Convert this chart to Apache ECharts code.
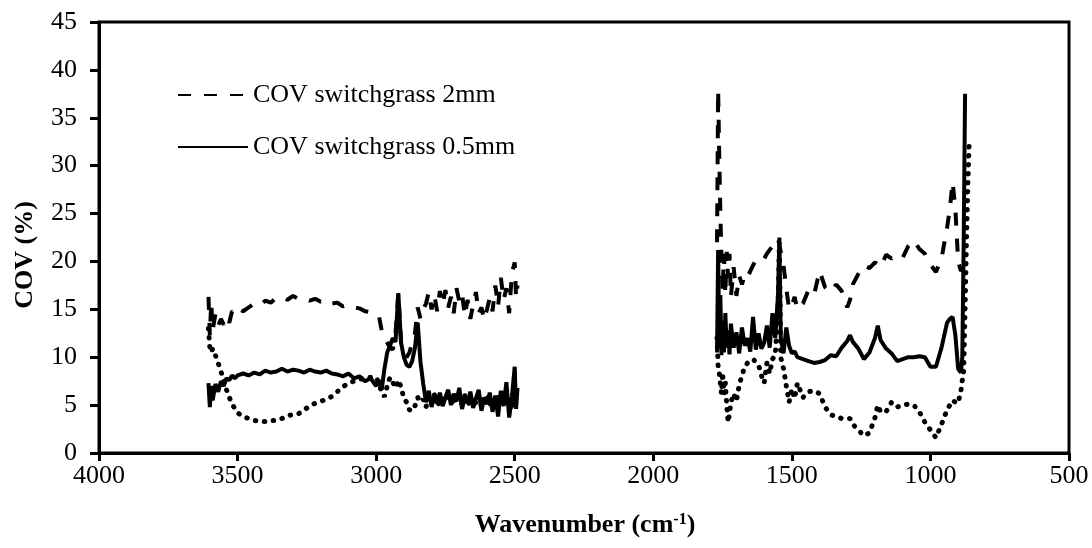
<!DOCTYPE html>
<html>
<head>
<meta charset="utf-8">
<script src="https://cdn.jsdelivr.net/npm/echarts@6/dist/echarts.min.js"></script>
<style>html,body{margin:0;padding:0;background:#fff;}#chart{width:1092px;height:548px;}</style>
</head>
<body>
<div id="chart"></div>
<script>
// ---------- data ----------
const wnLeft = [3605, 3600, 3595, 3590, 3580, 3570, 3560, 3550, 3540, 3530, 3520, 3510, 3500,
  3480, 3460, 3440, 3420, 3400, 3380, 3360, 3340, 3320, 3300, 3280, 3260, 3240, 3220, 3200, 3180, 3160, 3140, 3120, 3100, 3080, 3060, 3040, 3020,
  3000, 2990, 2980, 2970, 2960, 2950, 2940, 2930, 2920, 2910, 2900, 2890, 2880, 2870, 2860, 2850, 2840, 2830, 2820, 2810, 2800,
  2790, 2780, 2770, 2760, 2750, 2740, 2730, 2720, 2710, 2700, 2690, 2680, 2670, 2660, 2650, 2640, 2630, 2620, 2610, 2600,
  2590, 2580, 2570, 2560, 2550, 2540, 2530, 2520, 2510, 2500, 2495, 2490];

const cov2mmLeft = [16.3, 12.3, 15.8, 12.8, 14.5, 13.3, 14.0, 13.4, 14.2, 13.6, 14.8, 14.6, 15.1,
  14.8, 15.2, 15.6, 15.4, 15.9, 15.7, 16.2, 16.3, 16.0, 16.4, 16.1, 16.2, 15.9, 16.1, 15.8, 16.0, 15.6, 15.7, 15.3, 15.5, 15.2, 15.1, 14.8, 14.7,
  14.5, 14.3, 12.8, 12.0, 11.5, 11.0, 10.8, 12.5, 16.7, 11.5, 10.5, 10.0, 10.5, 11.5, 12.5, 15.2, 14.0, 15.0, 15.6, 16.8, 15.0,
  16.5, 14.8, 16.9, 15.5, 17.0, 15.2, 16.3, 14.6, 17.2, 15.8, 16.6, 14.3, 16.0, 14.0, 15.5, 16.8, 14.6, 15.2, 13.9, 15.0,
  16.2, 14.8, 17.5, 15.3, 18.3, 16.0, 17.2, 14.6, 18.8, 19.9, 16.2, 17.5];

const cov05Left = [7.3, 4.8, 7.0, 5.5, 7.2, 6.4, 7.5, 7.0, 7.8, 7.6, 8.1, 7.8, 8.1,
  8.3, 8.1, 8.4, 8.2, 8.6, 8.4, 8.5, 8.8, 8.5, 8.7, 8.6, 8.4, 8.7, 8.5, 8.4, 8.6, 8.3, 8.2, 8.0, 8.3, 7.8, 8.0, 7.5, 7.8,
  7.0, 7.6, 6.6, 8.8, 10.5, 11.2, 12.0, 11.6, 16.7, 11.5, 10.0, 9.2, 9.0, 9.6, 11.0, 13.6, 9.5, 7.2, 5.3, 6.5, 4.8,
  6.0, 5.2, 6.3, 4.9, 5.8, 6.6, 5.0, 6.2, 5.4, 6.8, 4.6, 5.9, 5.2, 6.4, 4.7, 5.7, 6.6, 4.4, 5.8, 5.1,
  6.3, 4.3, 6.0, 3.8, 6.5, 4.9, 7.4, 3.7, 5.9, 9.0, 4.6, 6.8];

const covDotLeft = [13.0, 11.0, 10.5, 10.9, 10.2, 9.4, 8.5, 7.6, 6.6, 5.8, 5.2, 4.6, 4.2,
  3.8, 3.6, 3.4, 3.3, 3.3, 3.4, 3.4, 3.6, 3.9, 4.0, 4.1, 4.5, 4.9, 5.2, 5.4, 5.6, 5.9, 6.4, 6.9, 7.3, 7.5, 7.7, 7.8, 7.9,
  7.9, 7.3, 6.3, 5.9, 7.0, 7.9, 7.4, 6.8, 7.6, 6.9, 5.7, 5.3, 4.5, 4.4, 4.9, 5.8, 5.3, 5.6, 4.8, 5.9, 5.2,
  6.1, 5.5, 4.8, 5.9, 5.3, 6.0, 5.4, 5.0, 6.2, 5.5, 5.1, 6.0, 5.4, 4.9, 5.8, 5.2, 5.9, 4.8, 5.5, 6.1,
  5.0, 5.6, 4.7, 5.9, 5.2, 6.3, 4.9, 5.6, 4.5, 6.2, 5.0, 4.8];

const wnRight = [1770, 1766, 1762, 1758, 1754, 1750, 1745, 1740, 1735, 1730, 1725, 1720, 1710, 1700, 1690, 1680,
  1670, 1660, 1650, 1640, 1630, 1620, 1610, 1600, 1590, 1580, 1570, 1560, 1550, 1545, 1540, 1530, 1520, 1510, 1500,
  1490, 1480, 1460, 1440, 1420, 1400, 1380, 1360, 1340, 1320, 1300, 1290, 1280, 1260, 1240, 1220, 1200, 1190, 1180,
  1160, 1140, 1120, 1100, 1080, 1060, 1040, 1020, 1000, 980, 960, 940, 930, 920, 910, 900, 890, 885, 880, 875, 870, 865, 860];

const cov2mmRight = [22.0, 37.9, 31.0, 25.0, 20.5, 16.8, 20.8, 16.5, 21.0, 18.3, 20.8, 16.3, 19.4, 16.4, 18.5, 17.6,
  18.6, 18.3, 19.0, 19.6, 20.1, 19.9, 20.0, 20.3, 20.8, 21.2, 21.6, 22.0, 22.4, 22.6, 21.0, 19.6, 17.2, 15.0, 15.4,
  16.3, 15.0, 15.6, 17.0, 16.5, 19.0, 17.3, 16.8, 17.6, 16.9, 15.2, 16.0, 17.6, 18.7, 19.6, 19.3, 19.9, 19.7, 19.4,
  20.7, 20.3, 20.7, 20.4, 21.6, 22.2, 21.3, 20.8, 19.7, 18.9, 20.3, 23.5, 25.5, 28.3, 25.5, 20.0, 19.0, 19.2, null, null, null, null, null];

const cov05Right = [10.5, 21.2, 11.0, 16.5, 10.2, 13.8, 10.5, 14.6, 11.0, 12.8, 10.3, 13.5, 11.0, 12.6, 10.4, 13.1,
  11.2, 12.0, 10.6, 14.2, 10.8, 12.5, 10.9, 11.5, 13.3, 11.0, 14.6, 12.0, 16.5, 22.5, 12.0, 10.4, 13.1, 11.2, 10.4,
  10.6, 10.0, 9.8, 9.6, 9.4, 9.5, 9.7, 10.2, 10.1, 11.0, 11.7, 12.3, 11.6, 10.9, 9.8, 10.5, 12.0, 13.3, 11.8,
  10.9, 10.4, 9.6, 9.8, 10.0, 10.0, 10.1, 10.0, 9.0, 9.0, 11.0, 13.6, 14.0, 14.2, 12.3, 8.8, 8.4, 10.0, 22.0, 37.5, null, null, null];

const covDotRight = [12.0, 9.0, 8.4, 7.3, 6.2, 8.4, 6.2, 7.3, 5.0, 3.2, 4.1, 5.3, 6.2, 5.4, 7.1, 8.1,
  9.0, 9.4, 9.6, 9.8, 9.5, 9.2, 8.1, 7.3, 9.4, 8.3, 9.8, 10.2, 15.0, 22.0, 10.0, 8.8, 7.0, 5.3, 6.7,
  5.7, 7.3, 5.8, 6.4, 6.5, 6.2, 4.8, 4.0, 3.8, 3.6, 3.6, 3.6, 3.0, 2.4, 1.8, 2.1, 3.7, 5.0, 4.3,
  4.3, 5.3, 4.8, 5.0, 5.1, 5.0, 4.3, 3.2, 2.4, 1.6, 3.0, 4.5, 5.0, 5.5, 5.3, 5.2, 6.5, 7.6, 8.6, 15.0, 22.0, 28.0, 32.6];

const seriesNames = ['COV switchgrass 2mm', 'COV switchgrass 0.5mm', 'COV switchgrass (dotted)'];
const xMin = 500, xMax = 4000, xStep = 500;
const yMin = 0, yMax = 45, yStep = 5;
const gapWavenumber = 2150; // break between the two spectral windows

function buildPairs(wnL, vL, wnR, vR) {
  const out = wnL.map((w, i) => [w, vL[i] == null ? '-' : vL[i]]);
  out.push([gapWavenumber, '-']);
  wnR.forEach((w, i) => out.push([w, vR[i] == null ? '-' : vR[i]]));
  return out;
}

const FONT = '"Liberation Serif", "Times New Roman", serif';
const chart = echarts.init(document.getElementById('chart'), null, {renderer: 'canvas'});
chart.setOption({
  animation: false,
  backgroundColor: '#ffffff',
  grid: {left: 99, right: 23, top: 22, bottom: 95, show: true, borderColor: '#000', borderWidth: 3, backgroundColor: 'transparent'},
  legend: {
    data: [seriesNames[0], seriesNames[1]],
    orient: 'vertical', left: 172, top: 77,
    itemWidth: 70, itemHeight: 14, itemGap: 26,
    selectedMode: false,
    itemStyle: {color: 'rgba(0,0,0,0)', borderColor: 'rgba(0,0,0,0)', borderWidth: 0, opacity: 0},
    textStyle: {fontFamily: FONT, fontSize: 26, color: '#000'}
  },
  xAxis: {
    type: 'value', min: xMin, max: xMax, interval: xStep, inverse: true,
    axisLine: {show: true, onZero: false, lineStyle: {color: '#000', width: 3}},
    axisTick: {show: true, inside: false, length: 8, lineStyle: {color: '#000', width: 3}},
    axisLabel: {margin: 10, fontFamily: FONT, fontSize: 26, color: '#000', formatter: v => String(v)},
    splitLine: {show: false}
  },
  yAxis: {
    type: 'value', min: yMin, max: yMax, interval: yStep,
    axisLine: {show: true, lineStyle: {color: '#000', width: 3}},
    axisTick: {show: true, inside: false, length: 9, lineStyle: {color: '#000', width: 3}},
    axisLabel: {margin: 22, fontFamily: FONT, fontSize: 26, color: '#000', formatter: v => String(v)},
    splitLine: {show: false}
  },
  graphic: [
    {type: 'text', x: 25, y: 255, rotation: Math.PI / 2,
     style: {text: 'COV (%)', font: 'bold 26px ' + FONT, fill: '#000', align: 'center', verticalAlign: 'middle'}},
    {type: 'text', x: 585, y: 525,
     style: {text: 'Wavenumber (cm{sup|-1})', font: 'bold 26px ' + FONT, fill: '#000', align: 'center', verticalAlign: 'middle',
       rich: {sup: {font: 'bold 16px ' + FONT, fill: '#000', verticalAlign: 'top', padding: [0, 0, 10, 0]}}}}
  ],
  series: [
    {name: seriesNames[2], type: 'line', symbol: 'none', connectNulls: false,
     data: buildPairs(wnLeft, covDotLeft, wnRight, covDotRight),
     lineStyle: {color: '#000', width: 5, type: [0.5, 8.5], cap: 'round'}, z: 2},
    {name: seriesNames[0], type: 'line', symbol: 'none', connectNulls: false,
     data: buildPairs(wnLeft, cov2mmLeft, wnRight, cov2mmRight),
     itemStyle: {color: '#000'},
     lineStyle: {color: '#000', width: 4, type: [13, 13]}, z: 3},
    {name: seriesNames[1], type: 'line', symbol: 'none', connectNulls: false,
     data: buildPairs(wnLeft, cov05Left, wnRight, cov05Right),
     itemStyle: {color: '#000'},
     lineStyle: {color: '#000', width: 4, type: 'solid'}, z: 4}
  ]
});
</script>
</body>
</html>
